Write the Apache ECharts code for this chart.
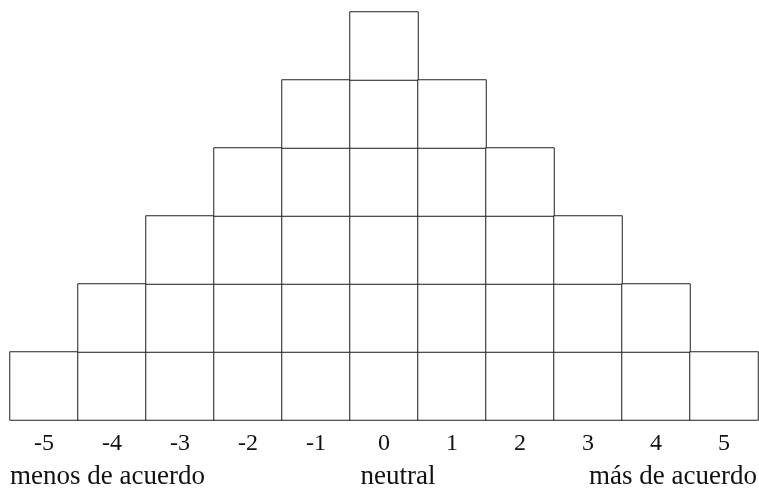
<!DOCTYPE html>
<html>
<head>
<meta charset="utf-8">
<script src="https://cdn.jsdelivr.net/npm/echarts@6/dist/echarts.min.js"></script>
<style>
  html, body { margin: 0; padding: 0; background: #fff; }
  #chart { width: 759px; height: 490px; }
</style>
</head>
<body>
<div id="chart"></div>
<script>
// escala de la Q-sort
var scores = ['-5', '-4', '-3', '-2', '-1', '0', '1', '2', '3', '4', '5'];
// casillas por columna
var slots = [1, 2, 3, 4, 5, 6, 5, 4, 3, 2, 1];
var rows = ['1', '2', '3', '4', '5', '6'];

var cells = [];
for (var i = 0; i < scores.length; i++) {
  for (var j = 0; j < slots[i]; j++) {
    cells.push([i, j, 1]);
  }
}

var chart = echarts.init(document.getElementById('chart'));
var serif = '"Liberation Serif", "DejaVu Serif", serif';

chart.setOption({
  animation: false,
  grid: { left: 10, right: 1, top: 12, bottom: 70 },
  xAxis: {
    type: 'category',
    data: scores,
    axisLine: { show: false },
    axisTick: { show: false },
    splitLine: { show: false },
    axisLabel: { margin: 12, fontFamily: serif, fontSize: 24, color: '#111' }
  },
  yAxis: {
    type: 'category',
    data: rows,
    show: false
  },
  series: [{
    type: 'heatmap',
    data: cells,
    itemStyle: { color: '#fff', borderColor: '#222', borderWidth: 1 },
    emphasis: { disabled: true },
    label: { show: false }
  }],
  graphic: [
    { type: 'text', x: 10, y: 477,
      style: { text: 'menos de acuerdo', font: '27px ' + serif, fill: '#111', align: 'left', verticalAlign: 'middle' } },
    { type: 'text', x: 398, y: 477,
      style: { text: 'neutral', font: '27px ' + serif, fill: '#111', align: 'center', verticalAlign: 'middle' } },
    { type: 'text', x: 757, y: 477,
      style: { text: 'más de acuerdo', font: '27px ' + serif, fill: '#111', align: 'right', verticalAlign: 'middle' } }
  ]
});
</script>
</body>
</html>
